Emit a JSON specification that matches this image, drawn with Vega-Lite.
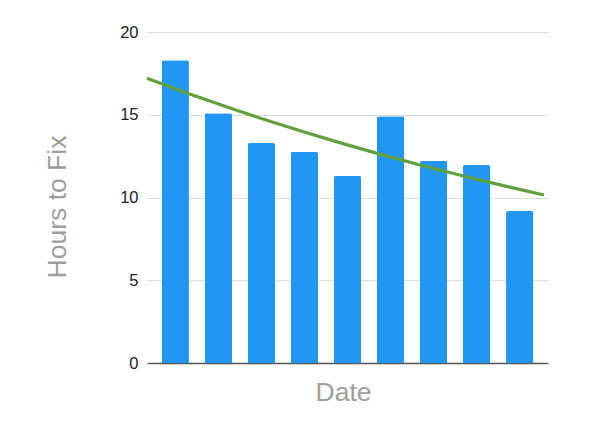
{
  "$schema": "https://vega.github.io/schema/vega-lite/v6.json",
  "autosize": "none",
  "width": 401,
  "height": 331,
  "padding": {"left": 147, "top": 32, "right": 52, "bottom": 65},
  "background": "white",
  "config": {
    "view": {"stroke": null},
    "font": "Liberation Sans"
  },
  "datasets": {
    "bars": [
      {"date": "1", "hours": 18.29},
      {"date": "2", "hours": 15.09},
      {"date": "3", "hours": 13.29},
      {"date": "4", "hours": 12.75},
      {"date": "5", "hours": 11.30},
      {"date": "6", "hours": 14.91},
      {"date": "7", "hours": 12.21},
      {"date": "8", "hours": 11.96},
      {"date": "9", "hours": 9.18}
    ],
    "trend": [
      {"t": 0.0, "hours": 17.2},
      {"t": 0.1, "hours": 16.32},
      {"t": 0.2, "hours": 15.48},
      {"t": 0.3, "hours": 14.68},
      {"t": 0.4, "hours": 13.93},
      {"t": 0.5, "hours": 13.21},
      {"t": 0.6, "hours": 12.53},
      {"t": 0.7, "hours": 11.89},
      {"t": 0.8, "hours": 11.28},
      {"t": 0.9, "hours": 10.70},
      {"t": 1.0, "hours": 10.15}
    ]
  },
  "layer": [
    {
      "data": {"name": "bars"},
      "mark": {"type": "bar", "color": "#2196f3", "cornerRadiusTopLeft": 2, "cornerRadiusTopRight": 2},
      "encoding": {
        "x": {
          "field": "date", "type": "ordinal",
          "scale": {"paddingInner": 0.366, "paddingOuter": 0.34},
          "axis": {
            "title": "Date", "labels": false, "ticks": false,
            "domainColor": "#555555", "domainWidth": 1.5,
            "titleFontSize": 26.5, "titleFontWeight": "normal", "titleColor": "#9e9e9e",
            "titlePadding": 16, "titleX": 196, "grid": false
          }
        },
        "y": {
          "field": "hours", "type": "quantitative",
          "scale": {"domain": [0, 20], "nice": false},
          "axis": {
            "title": "Hours to Fix", "values": [0, 5, 10, 15, 20],
            "domain": false, "ticks": false,
            "labelFontSize": 16.5, "labelColor": "#222222", "labelPadding": 9,
            "gridColor": "#dddddd", "gridWidth": 1.2,
            "titleFontSize": 26.5, "titleFontWeight": "normal", "titleColor": "#9e9e9e",
            "titleX": -76, "titleY": 174.5
          }
        }
      }
    },
    {
      "data": {"name": "trend"},
      "mark": {"type": "line", "color": "#62a03f", "strokeWidth": 3.2, "interpolate": "monotone"},
      "encoding": {
        "x": {"field": "t", "type": "quantitative", "scale": {"domain": [0, 1.01], "nice": false}, "axis": null},
        "y": {"field": "hours", "type": "quantitative"}
      }
    }
  ],
  "resolve": {"scale": {"x": "independent"}}
}
